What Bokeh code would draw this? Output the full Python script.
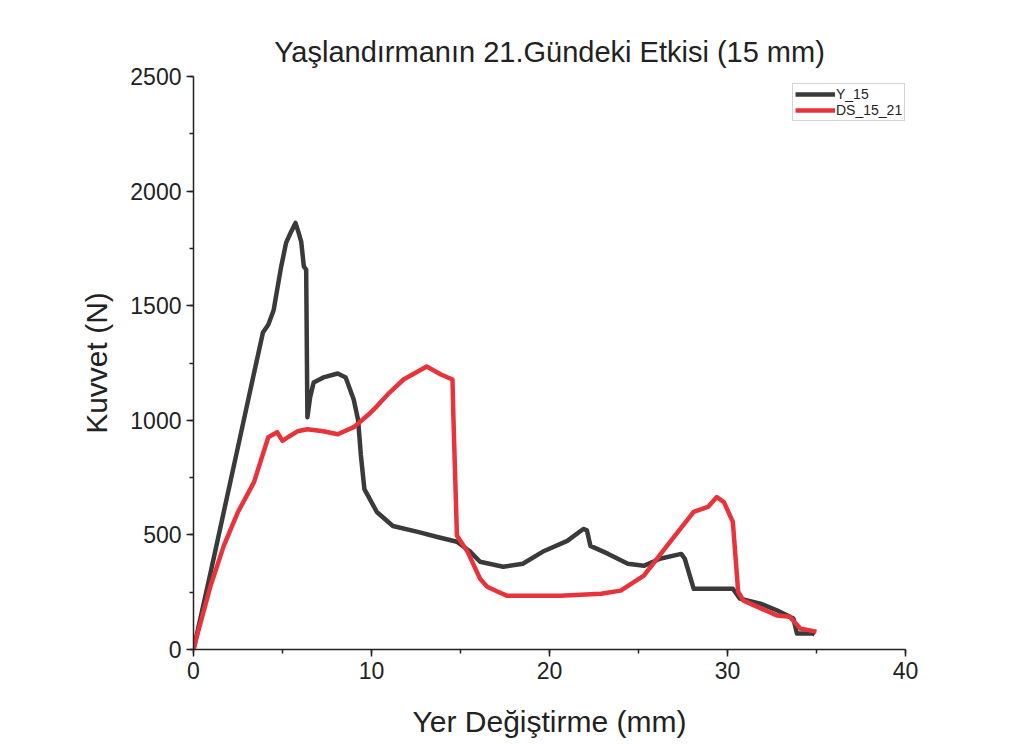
from bokeh.plotting import figure
from bokeh.models import Legend, LegendItem, Range1d, SingleIntervalTicker
from bokeh.embed import file_html
from bokeh.resources import INLINE

# Y_15 series
x_y15 = [0, 0.5, 1.0, 1.7, 2.6, 3.3, 3.9, 4.2, 4.5, 4.9, 5.2, 5.45, 5.73, 5.9, 6.05, 6.2, 6.33,
         6.4, 6.55, 6.75, 7.3, 8.1, 8.55, 9.0, 9.25, 9.4, 9.6, 10.3, 11.2, 12.6, 13.7, 14.8, 15.5,
         16.1, 17.4, 18.5, 19.7, 21.0, 21.9, 22.1, 22.3, 23.3, 24.4, 25.3, 26.2, 27.4, 27.6, 28.1,
         30.3, 30.7, 31.85, 32.8, 33.7, 33.9, 34.8, 34.9]
f_y15 = [0, 175, 350, 600, 920, 1170, 1383, 1417, 1480, 1660, 1774, 1817, 1861, 1820, 1780, 1671, 1657,
         1013, 1100, 1165, 1187, 1204, 1187, 1091, 1000, 850, 700, 600, 539, 513, 491, 470, 430,
         383, 361, 374, 430, 474, 526, 520, 452, 417, 374, 365, 396, 417, 396, 265,
         265, 222, 200, 170, 135, 70, 70, 65]

# DS_15_21 series
x_ds = [0, 0.2, 0.96, 1.7, 2.5, 3.4, 4.2, 4.7, 5.0, 5.3, 5.84, 6.4, 7.3, 8.1, 9.0, 9.9, 10.3, 11.0,
        11.8, 13.1, 13.9, 14.55, 14.6, 14.8, 15.4, 16.1, 16.5, 17.1, 17.6, 20.6, 22.9, 24.0, 25.3,
        26.6, 28.1, 28.9, 29.4, 29.8, 30.3, 30.6, 30.9, 32.8, 33.5, 34.1, 35.0]
f_ds = [0, 60, 278, 452, 600, 730, 926, 948, 910, 926, 952, 961, 952, 939, 970, 1030, 1061, 1120,
        1178, 1235, 1200, 1178, 1017, 496, 426, 309, 274, 252, 235, 235, 243, 257, 322,
        452, 600, 622, 665, 643, 557, 252, 213, 148, 143, 91, 78]

FONT = "Liberation Sans"

p = figure(width=1020, height=740, output_backend="svg", toolbar_location=None,
           x_range=Range1d(0, 40), y_range=Range1d(0, 2500),
           min_border_left=193, min_border_right=115, min_border_top=76, min_border_bottom=89)
p.title.text = "Yaşlandırmanın 21.Gündeki Etkisi (15 mm)"
p.title.align = "center"
p.title.text_font = FONT
p.title.text_font_size = "29px"
p.title.text_font_style = "normal"
p.title.text_color = "#222222"
p.title.standoff = 18

p.grid.visible = False
p.outline_line_color = None
p.background_fill_color = "white"
p.border_fill_color = "white"

for ax in (p.xaxis[0], p.yaxis[0]):
    ax.axis_line_color = "#222222"
    ax.axis_line_width = 1.5
    ax.major_tick_line_color = "#222222"
    ax.minor_tick_line_color = "#222222"
    ax.major_tick_line_width = 1.5
    ax.minor_tick_line_width = 1.5
    ax.major_tick_out = 7
    ax.major_tick_in = 0
    ax.minor_tick_out = 4
    ax.minor_tick_in = 0
    ax.major_label_text_font = FONT
    ax.major_label_text_font_size = "23px"
    ax.major_label_text_color = "#222222"
    ax.axis_label_text_font = FONT
    ax.axis_label_text_font_size = "30px"
    ax.axis_label_text_font_style = "normal"
    ax.axis_label_text_color = "#222222"

p.xaxis.ticker = SingleIntervalTicker(interval=10, num_minor_ticks=2)
p.yaxis.ticker = SingleIntervalTicker(interval=500, num_minor_ticks=2)
p.xaxis.axis_label = "Yer Değiştirme (mm)"
p.yaxis.axis_label = "Kuvvet (N)"
p.xaxis.axis_label_standoff = 23
p.yaxis.axis_label_standoff = 14

r1 = p.line(x_y15, f_y15, line_color="#3a3a3a", line_width=4.5, line_join="round")
r2 = p.line(x_ds, f_ds, line_color="#e8333b", line_width=4.5, line_join="round")

legend = Legend(items=[LegendItem(label="Y_15", renderers=[r1]),
                       LegendItem(label="DS_15_21", renderers=[r2])],
                location=(599, 528), orientation="vertical")
legend.label_text_font = FONT
legend.label_text_font_size = "14px"
legend.label_text_color = "#222222"
legend.glyph_width = 40
legend.glyph_height = 16
legend.label_standoff = 1
legend.label_height = 16
legend.spacing = 0
legend.padding = 2
legend.margin = 0
legend.border_line_color = "#aaaaaa"
legend.border_line_width = 1
legend.background_fill_alpha = 1
p.add_layout(legend, "center")

open("out.html", "w").write(file_html(p, INLINE))
